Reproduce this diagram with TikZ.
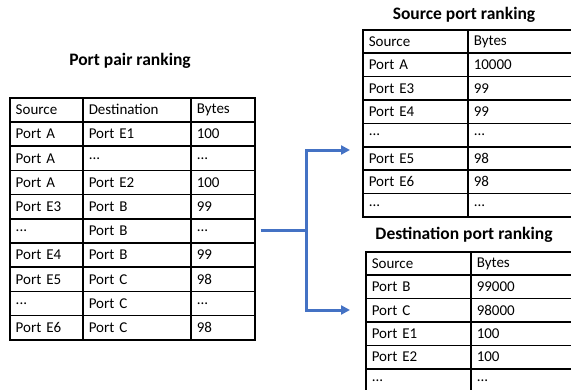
\documentclass[tikz,border=0pt]{standalone}
\usepackage{fontspec}
\setmainfont{Carlito}
\usepackage{tikz}
\usetikzlibrary{positioning, calc, arrows.meta}
\definecolor{flowblue}{HTML}{4472C4}
\newcommand{\skiprow}{...}

\begin{document}
\begin{tikzpicture}[
    x = 1pt, y = -1pt,
    cell/.style = {rectangle, draw = black, line width = 1.5pt, anchor = north west,
                   inner xsep = 6pt, inner ysep = 0pt, align = left,
                   font = \fontsize{15}{17}\selectfont},
    title/.style = {font = \fontsize{17.5}{20}\selectfont\bfseries},
    flow/.style = {draw = flowblue, line width = 3pt},
    % arrow into the right tables
    feed/.style = {flow, -{Triangle[length = 9pt, width = 9pt]}},
    ]
    \useasboundingbox (0,0) rectangle (571,389);

    % port pair table
    \node [title] (pptitle) at (130,61) {Port pair ranking};
    \foreach \s/\d/\b [count = \r from 0] in {Source/Destination/Bytes, Port A/Port E1/100,
        Port A/\skiprow/\skiprow, Port A/Port E2/100, Port E3/Port B/99, \skiprow/Port B/\skiprow,
        Port E4/Port B/99, Port E5/Port C/98, \skiprow/Port C/\skiprow, Port E6/Port C/98} {
        \node [cell, minimum height = 24.2pt, text width = 61pt]  (pp-\r-0) at (9, 97+24.2*\r)  {\s};
        \node [cell, minimum height = 24.2pt, text width = 96pt]  (pp-\r-1) at (82, 97+24.2*\r) {\d};
        \node [cell, minimum height = 24.2pt, text width = 52pt]  (pp-\r-2) at (190, 97+24.2*\r) {\b};
    }

    % source port table
    \node [title] (srctitle) at (464,15) {Source port ranking};
    \foreach \s/\b [count = \r from 0] in {Source/Bytes, Port A/10000, Port E3/99, Port E4/99,
        \skiprow/\skiprow, Port E5/98, Port E6/98, \skiprow/\skiprow} {
        \node [cell, minimum height = 23.4pt, text width = 93pt]  (src-\r-0) at (362, 29+23.4*\r)  {\s};
        \node [cell, minimum height = 23.4pt, text width = 108pt] (src-\r-1) at (467, 29+23.4*\r) {\b};
    }

    % destination port table
    \node [title] (dsttitle) at (464,235) {Destination port ranking};
    \foreach \s/\b [count = \r from 0] in {Source/Bytes, Port B/99000, Port C/98000,
        Port E1/100, Port E2/100, \skiprow/\skiprow} {
        \node [cell, minimum height = 23.4pt, text width = 93pt]  (dst-\r-0) at (365, 251+23.4*\r)  {\s};
        \node [cell, minimum height = 23.4pt, text width = 108pt] (dst-\r-1) at (470, 251+23.4*\r) {\b};
    }

    % connectors
    \coordinate (split) at ([xshift = 51pt]pp-5-2.east);
    \coordinate (srcin) at (350,150);
    \coordinate (dstin) at (350,310);
    \draw [flow] ([xshift = 5pt]pp-5-2.east) -- (split);
    \draw [feed] (split) |- (srcin);
    \draw [feed] (split) |- (dstin);
\end{tikzpicture}
\end{document}
